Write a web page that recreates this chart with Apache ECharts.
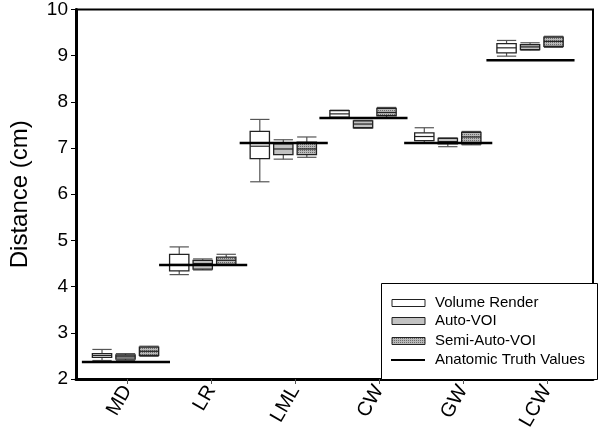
<!DOCTYPE html>
<html>
<head>
<meta charset="utf-8">
<script src="https://cdn.jsdelivr.net/npm/echarts@6/dist/echarts.min.js"></script>
<style>html,body{margin:0;padding:0;background:#fff}#c{width:600px;height:442px}</style>
</head>
<body>
<div id="c"></div>
<script>
const categories = ['MD', 'LR', 'LML', 'CW', 'GW', 'LCW'];
const groupX = [0.98, 1.90, 2.86, 3.81, 4.82, 5.80];
const yTicks = [2, 3, 4, 5, 6, 7, 8, 9, 10];
const truthValues = [2.37, 4.47, 7.11, 7.65, 7.11, 8.90];
// [whisker low, Q1, median, Q3, whisker high]
const volumeRender = [
  [2.40, 2.47, 2.51, 2.55, 2.64],
  [4.26, 4.34, 4.48, 4.70, 4.86],
  [6.27, 6.77, 7.04, 7.36, 7.62],
  [7.66, 7.67, 7.74, 7.81, 7.82],
  [7.12, 7.16, 7.25, 7.33, 7.44],
  [8.99, 9.06, 9.17, 9.26, 9.33]
];
const autoVOI = [
  [2.40, 2.43, 2.48, 2.52, 2.55],
  [4.36, 4.38, 4.50, 4.57, 4.60],
  [6.76, 6.86, 6.98, 7.09, 7.18],
  [7.43, 7.44, 7.52, 7.59, 7.60],
  [7.03, 7.09, 7.14, 7.21, 7.22],
  [9.12, 9.13, 9.19, 9.24, 9.28]
];
const semiAutoVOI = [
  [2.49, 2.51, 2.60, 2.69, 2.71],
  [4.47, 4.48, 4.57, 4.64, 4.70],
  [6.80, 6.86, 6.98, 7.13, 7.24],
  [7.66, 7.70, 7.77, 7.86, 7.88],
  [7.07, 7.09, 7.24, 7.34, 7.36],
  [9.18, 9.20, 9.31, 9.40, 9.42]
];
const seriesNames = ['Volume Render', 'Auto-VOI', 'Semi-Auto-VOI', 'Anatomic Truth Values'];

// dotted pattern for Semi-Auto-VOI
const pc = document.createElement('canvas');
pc.width = 2; pc.height = 2;
const pctx = pc.getContext('2d');
pctx.fillStyle = '#b8b8b8'; pctx.fillRect(0, 0, 2, 2);
pctx.fillStyle = '#6a6a6a'; pctx.fillRect(0, 0, 1, 1);
const dotPattern = { image: pc, repeat: 'repeat' };

const FONT = "'Liberation Sans', Arial, sans-serif";
const offsets = [-0.28, 0, 0.28];
const fills = ['#ffffff', '#c2c2c2', dotPattern];
const BOXW = 0.23;

function boxRender(fill) {
  return function (params, api) {
    const x = api.value(0);
    const lo = api.coord([x, api.value(1)]);
    const q1 = api.coord([x, api.value(2)]);
    const md = api.coord([x, api.value(3)]);
    const q3 = api.coord([x, api.value(4)]);
    const hi = api.coord([x, api.value(5)]);
    const w = api.size([BOXW, 0])[0];
    const cx = lo[0];
    const l = cx - w / 2, r = cx + w / 2;
    const wcol = '#555';
    return {
      type: 'group',
      children: [
        { type: 'line', shape: { x1: cx, y1: q3[1], x2: cx, y2: hi[1] }, style: { stroke: wcol, lineWidth: 1.2 } },
        { type: 'line', shape: { x1: cx, y1: q1[1], x2: cx, y2: lo[1] }, style: { stroke: wcol, lineWidth: 1.2 } },
        { type: 'line', shape: { x1: l, y1: hi[1], x2: r, y2: hi[1] }, style: { stroke: wcol, lineWidth: 1.2 } },
        { type: 'line', shape: { x1: l, y1: lo[1], x2: r, y2: lo[1] }, style: { stroke: wcol, lineWidth: 1.2 } },
        { type: 'rect', shape: { x: l, y: q3[1], width: w, height: q1[1] - q3[1] }, style: { fill: fill, stroke: '#222', lineWidth: 1.3 } },
        { type: 'line', shape: { x1: l, y1: md[1], x2: r, y2: md[1] }, style: { stroke: '#222', lineWidth: 1.2 } }
      ]
    };
  };
}

const boxSets = [volumeRender, autoVOI, semiAutoVOI];
const series = boxSets.map(function (set, k) {
  return {
    name: seriesNames[k],
    type: 'custom',
    renderItem: boxRender(fills[k]),
    encode: { x: 0, y: [1, 2, 3, 4, 5] },
    data: set.map(function (v, i) { return [groupX[i] + offsets[k]].concat(v); }),
    z: 3
  };
});
series.push({
  name: seriesNames[3],
  type: 'custom',
  renderItem: function (params, api) {
    const x = api.value(0), y = api.value(1);
    const a = api.coord([x - 0.52, y]);
    const b = api.coord([x + 0.53, y]);
    return { type: 'line', shape: { x1: a[0], y1: a[1], x2: b[0], y2: b[1] }, style: { stroke: '#000', lineWidth: 2.5 } };
  },
  encode: { x: 0, y: 1 },
  data: truthValues.map(function (v, i) { return [groupX[i], v]; }),
  z: 4
});

const legendItems = [];
const LX = 381, LY = 283;
legendItems.push({ type: 'rect', left: LX, top: LY, shape: { width: 216, height: 96 }, style: { fill: '#fff', stroke: '#000', lineWidth: 1 }, z: 10 });
const rowY = [303, 321, 341, 360];
for (let k = 0; k < 4; k++) {
  if (k < 3) {
    legendItems.push({ type: 'rect', shape: { x: 392, y: rowY[k] - 3.5, width: 33, height: 7 }, style: { fill: fills[k], stroke: '#222', lineWidth: 1 }, z: 11 });
  } else {
    legendItems.push({ type: 'line', shape: { x1: 391, y1: rowY[k], x2: 425, y2: rowY[k] }, style: { stroke: '#000', lineWidth: 2 }, z: 11 });
  }
  legendItems.push({ type: 'text', x: 435, y: rowY[k], style: { text: seriesNames[k], font: '15px ' + FONT, fill: '#000', verticalAlign: 'middle', align: 'left' }, z: 11 });
}

const chart = echarts.init(document.getElementById('c'), null, { renderer: 'canvas' });
chart.setOption({
  animation: false,
  backgroundColor: '#fff',
  grid: { left: 73, top: 6, right: 7, bottom: 63, show: true, borderColor: '#000', borderWidth: 2, backgroundColor: 'transparent' },
  xAxis: {
    type: 'value', min: 0.39, max: 6.55,
    splitLine: { show: false },
    axisLine: { show: true, onZero: false, lineStyle: { color: '#000', width: 3 } },
    axisTick: { show: true, customValues: [1, 2, 3, 4, 5, 6], length: 5, lineStyle: { color: '#555', width: 1 } },
    axisLabel: {
      customValues: [1, 2, 3, 4, 5, 6],
      formatter: function (v) { return categories[Math.round(v) - 1] || ''; },
      rotate: 60, fontSize: 20, fontFamily: FONT, color: '#000', margin: 8
    }
  },
  yAxis: {
    type: 'value', min: 2, max: 10, interval: 1,
    name: 'Distance (cm)', nameLocation: 'middle', nameGap: 44,
    nameTextStyle: { fontSize: 24, fontFamily: FONT, color: '#000' },
    splitLine: { show: false },
    axisLine: { show: true, lineStyle: { color: '#000', width: 3 } },
    axisTick: { show: true, length: 5, lineStyle: { color: '#000', width: 1 } },
    axisLabel: { fontSize: 19, fontFamily: FONT, color: '#000', margin: 8, formatter: function (v) { return yTicks.indexOf(v) >= 0 ? String(v) : ''; } }
  },
  series: series,
  graphic: legendItems
});
</script>
</body>
</html>
